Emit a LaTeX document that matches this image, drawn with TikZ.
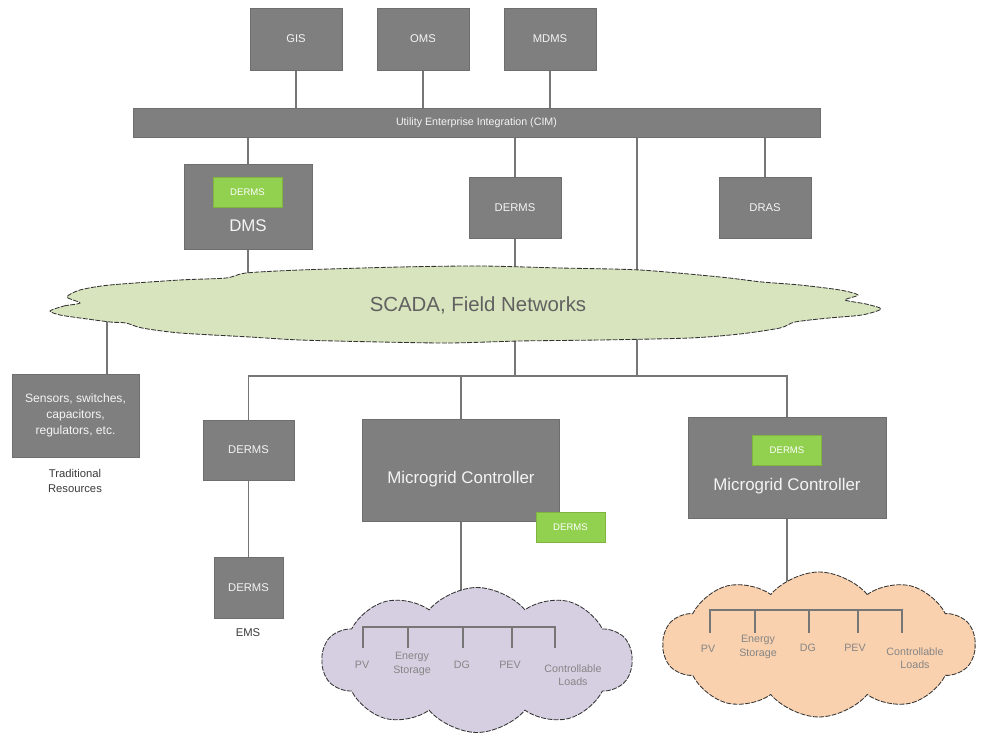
\documentclass[tikz,border=0pt]{standalone}
\usepackage{fontspec}
\setmainfont{Liberation Sans}
\usetikzlibrary{shapes.symbols}
\definecolor{boxgray}{HTML}{7F7F7F}
\definecolor{boxedge}{HTML}{6E6E6E}
\definecolor{boxtext}{HTML}{F4F4F4}
\definecolor{linegray}{HTML}{767676}
\definecolor{taggreen}{HTML}{92D050}
\definecolor{tagedge}{HTML}{7FB43E}
\definecolor{scadafill}{HTML}{D7E4BD}
\definecolor{purplefill}{HTML}{D6CFE2}
\definecolor{orangefill}{HTML}{FAD1AE}
\definecolor{labelgray}{HTML}{858585}
\definecolor{darktext}{HTML}{3A3A3A}
\pgfdeclarelayer{back}
\pgfsetlayers{back,main}
\begin{document}
\begin{tikzpicture}[x=0.025cm,y=-0.025cm,
  wire/.style={draw=linegray, line width=1.3pt},
  tree/.style={draw=linegray, line width=1.7pt},
  sz/.style 2 args={minimum width=#1*0.025cm, minimum height=#2*0.025cm},
  gbox/.style={draw=boxedge, fill=boxgray, line width=0.4pt, text=boxtext,
    inner sep=0pt, align=center, font=\fontsize{8}{9.6}\selectfont},
  tag/.style={draw=tagedge, fill=taggreen, line width=0.4pt, text=white,
    inner sep=0pt, font=\fontsize{6.8}{8}\selectfont, sz={69}{30}},
  bigtxt/.style={text=boxtext, font=\fontsize{12}{14}\selectfont, inner sep=0pt},
  outlabel/.style={text=darktext, align=center, inner sep=0pt,
    font=\fontsize{8}{10.5}\selectfont},
  leaf/.style={text=labelgray, align=center, inner sep=0pt,
    font=\fontsize{7.6}{9.4}\selectfont},
  cloudedge/.style={draw=black!80, line width=0.6pt, dash pattern=on 3.5pt off 1pt},
  puffy/.style={cloud, cloud puffs=10, cloud puff arc=100, cloud ignores aspect,
    cloudedge, inner sep=0pt}
]
\useasboundingbox (0,0) rectangle (989,734);

% enterprise systems and integration bus
\node[gbox, sz={92}{62}] (gis)  at (296,39) {GIS};
\node[gbox, sz={92}{62}] (oms)  at (423,39) {OMS};
\node[gbox, sz={92}{62}] (mdms) at (550,39) {MDMS};
\node[gbox, sz={687}{29}, font=\fontsize{7.6}{9}\selectfont] (bar) at (476.5,122.5)
  {Utility Enterprise Integration (CIM)};

% second tier
\node[gbox, sz={128}{85}] (dms) at (248,206.5) {};
\node[tag] (dmsderms) at (247.5,192) {DERMS};
\node[bigtxt] (dmstxt) at (248,226) {DMS};
\node[gbox, sz={92}{61}] (derms1) at (515,207.5) {DERMS};
\node[gbox, sz={92}{61}] (dras) at (765,207.5) {DRAS};

% SCADA cloud
\path[fill=scadafill, cloudedge] plot[smooth cycle, tension=0.45] coordinates {
  (50,311) (64,306) (80,303) (67,297) (80,290) (110,285) (180,280) (226,278)
  (246,273) (300,270) (400,267) (480,266) (560,268) (640,270) (720,277)
  (762,282) (800,285) (840,290) (858,295) (845,300) (866,304) (881,309)
  (862,315) (829,318) (795,322) (780,328) (740,334) (690,338) (600,340)
  (520,341) (450,343) (380,342) (300,340) (250,337) (180,333) (142,328)
  (126,323) (110,322) (80,318) (60,315)};
\node[text=black!62, font=\fontsize{14.5}{17}\selectfont, inner sep=0pt] (scada)
  at (478,305) {SCADA, Field Networks};
\coordinate (scadaleft) at (107,305);
\coordinate (hub) at (637,376);

% field devices
\node[gbox, sz={127}{83}, font=\fontsize{8.6}{11.5}\selectfont] (sensors) at (75.5,415.5)
  {Sensors, switches,\\capacitors,\\regulators, etc.};
\node[outlabel] (trad) at (75,481) {Traditional\\Resources};

\node[gbox, sz={91}{60}] (dermsA) at (248.5,450) {DERMS};
\node[gbox, sz={69}{61}] (dermsB) at (248.5,587.5) {DERMS};
\node[outlabel] (ems) at (248,633) {EMS};

\node[gbox, sz={197}{102}] (mgc1) at (461,470) {};
\node[bigtxt] (mgc1txt) at (461,479) {Microgrid Controller};
\node[tag] (mgc1derms) at (570.5,527) {DERMS};

\node[gbox, sz={198}{101}] (mgc2) at (787,467.5) {};
\node[tag] (mgc2derms) at (787,450) {DERMS};
\node[bigtxt] (mgc2txt) at (787,486) {Microgrid Controller};

% microgrid clouds
\node[puffy, fill=purplefill, sz={310}{145}] (pcloud) at (477,660) {};
\node[puffy, fill=orangefill, sz={312}{145}] (ocloud) at (819,644.5) {};

% connectors (behind the boxes and clouds)
\begin{pgfonlayer}{back}
\draw[wire] (gis) -- (gis |- bar.center);
\draw[wire] (oms) -- (oms |- bar.center);
\draw[wire] (mdms) -- (mdms |- bar.center);
\draw[wire] (bar.center -| dms) -- (dms.center) -- (dms |- scada);
\draw[wire] (bar.center -| derms1) -- (derms1.center) -- (derms1 |- hub);
\draw[wire] (bar.center -| dras) -- (dras.center);
\draw[wire] (bar.center -| hub) -- (hub);
\draw[wire] (scadaleft) -- (scadaleft |- sensors.center);
\draw[wire] (dermsA.center) -- (dermsA |- hub) -| (mgc2.center);
\draw[wire] (mgc1.center) -- (mgc1 |- hub);
\draw[wire] (dermsA.center) -- (dermsB.center);
\draw[wire] (mgc1.center) -- (mgc1 |- pcloud.center);
\draw[wire] (mgc2.center) -- (mgc2 |- ocloud.center);
\end{pgfonlayer}

% purple microgrid resources
\foreach \n/\x in {1/363, 2/408, 3/463, 4/512, 5/555} {
  \coordinate (pt\n) at (\x,627);
  \coordinate (pb\n) at (\x,648);
}
\draw[tree] (pb1) -- (pt1) -- (pt5) -- (pb5);
\foreach \n in {2,3,4} \draw[tree] (pt\n) -- (pb\n);
\node[leaf] (ppv)  at (362,665) {PV};
\node[leaf] (pes)  at (412,664) {Energy\\Storage};
\node[leaf] (pdg)  at (462,665) {DG};
\node[leaf] (ppev) at (510,665) {PEV};
\node[leaf] (pcl)  at (573,675) {Controllable\\Loads};

% orange microgrid resources
\foreach \n/\x in {1/710, 2/755, 3/809, 4/858, 5/902} {
  \coordinate (ot\n) at (\x,610);
  \coordinate (ob\n) at (\x,633);
}
\draw[tree] (ob1) -- (ot1) -- (ot5) -- (ob5);
\foreach \n in {2,3,4} \draw[tree] (ot\n) -- (ob\n);
\node[leaf] (opv)  at (708,649) {PV};
\node[leaf] (oes)  at (758,647) {Energy\\Storage};
\node[leaf] (odg)  at (808,648) {DG};
\node[leaf] (opev) at (855,648) {PEV};
\node[leaf] (ocl)  at (915,658) {Controllable\\Loads};
\end{tikzpicture}
\end{document}
